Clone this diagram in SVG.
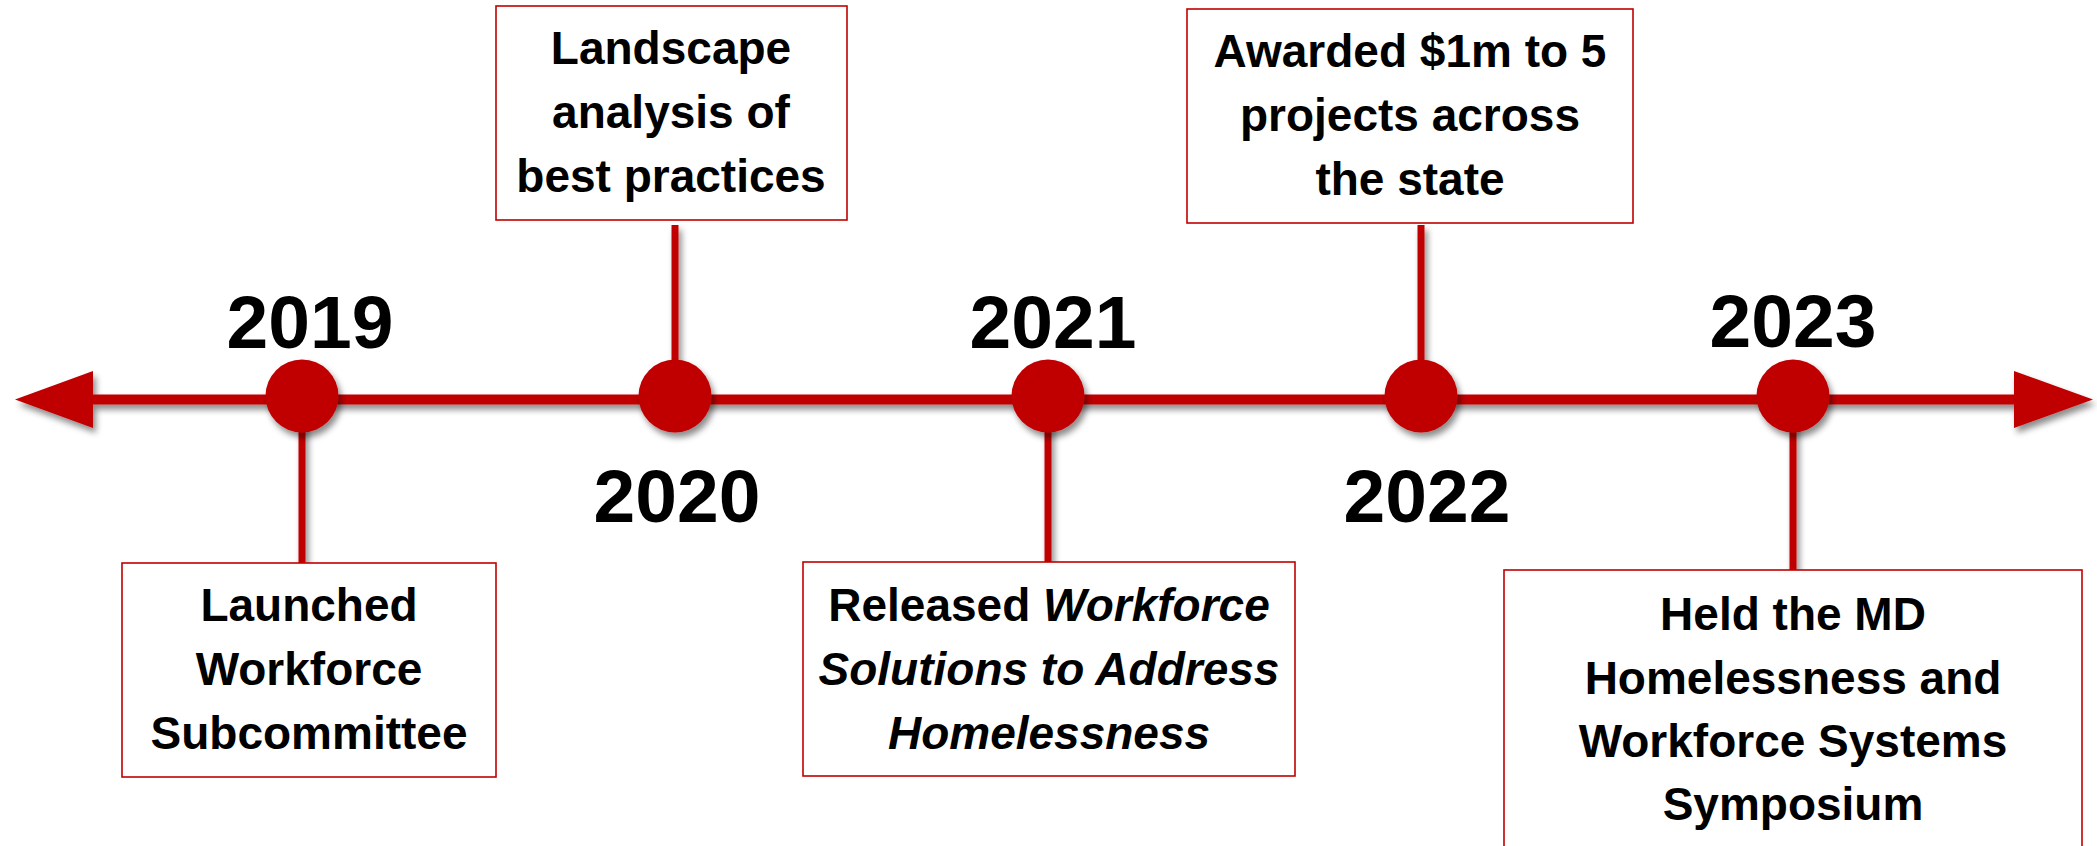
<svg xmlns="http://www.w3.org/2000/svg" width="2097" height="846" viewBox="0 0 2097 846">
  <defs>
    <filter id="shadow" x="-20%" y="-20%" width="140%" height="160%">
      <feDropShadow dx="3" dy="5" stdDeviation="3" flood-color="#000" flood-opacity="0.45"/>
    </filter>
  </defs>
  <style>
    .axis { stroke: #C00000; stroke-width: 10; fill: none; }
    .stem { stroke: #C00000; stroke-width: 7; fill: none; }
    .head { fill: #C00000; }
    .dot { fill: #C00000; }
    .box { fill: #FFFFFF; stroke: #C00000; stroke-width: 1.6; }
    .year { font-family: "Liberation Sans", Arial, sans-serif; font-weight: bold; font-size: 75px; fill: #000; text-anchor: middle; }
    .label { font-family: "Liberation Sans", Arial, sans-serif; font-weight: bold; font-size: 46px; fill: #000; text-anchor: middle; }
    .it { font-style: italic; }
  </style>
  <rect width="2097" height="846" fill="#FFFFFF"/>

  <g id="connectors" filter="url(#shadow)">
    <line class="axis" x1="90" y1="399.5" x2="2017" y2="399.5"/>
    <polygon class="head" points="15,399.5 93,371 93,428"/>
    <polygon class="head" points="2093,399.5 2014,371 2014,428"/>
    <line class="stem" x1="302" y1="420" x2="302" y2="564"/>
    <line class="stem" x1="675" y1="225" x2="675" y2="380"/>
    <line class="stem" x1="1048" y1="420" x2="1048" y2="563"/>
    <line class="stem" x1="1421" y1="225" x2="1421" y2="380"/>
    <line class="stem" x1="1793" y1="420" x2="1793" y2="571"/>
  </g>

  <g id="node-2019">
    <circle class="dot" cx="302" cy="396" r="36.5" filter="url(#shadow)"/>
    <text class="year" x="310" y="348">2019</text>
    <rect class="box" x="122" y="563" width="374" height="214"/>
    <text class="label" x="309" y="621">Launched</text>
    <text class="label" x="309" y="685">Workforce</text>
    <text class="label" x="309" y="749">Subcommittee</text>
  </g>

  <g id="node-2020">
    <circle class="dot" cx="675" cy="396" r="36.5" filter="url(#shadow)"/>
    <text class="year" x="677" y="522">2020</text>
    <rect class="box" x="496" y="6" width="351" height="214"/>
    <text class="label" x="671" y="64">Landscape</text>
    <text class="label" x="671" y="128">analysis of</text>
    <text class="label" x="671" y="192">best practices</text>
  </g>

  <g id="node-2021">
    <circle class="dot" cx="1048" cy="396" r="36.5" filter="url(#shadow)"/>
    <text class="year" x="1053" y="348">2021</text>
    <rect class="box" x="803" y="562" width="492" height="214"/>
    <text class="label" x="1049" y="621">Released <tspan class="it">Workforce</tspan></text>
    <text class="label it" x="1049" y="685">Solutions to Address</text>
    <text class="label it" x="1049" y="749">Homelessness</text>
  </g>

  <g id="node-2022">
    <circle class="dot" cx="1421" cy="396" r="36.5" filter="url(#shadow)"/>
    <text class="year" x="1427" y="522">2022</text>
    <rect class="box" x="1187" y="9" width="446" height="214"/>
    <text class="label" x="1410" y="67">Awarded $1m to 5</text>
    <text class="label" x="1410" y="131">projects across</text>
    <text class="label" x="1410" y="195">the state</text>
  </g>

  <g id="node-2023">
    <circle class="dot" cx="1793" cy="396" r="36.5" filter="url(#shadow)"/>
    <text class="year" x="1793" y="347">2023</text>
    <rect class="box" x="1504" y="570" width="578" height="300"/>
    <text class="label" x="1793" y="630">Held the MD</text>
    <text class="label" x="1793" y="694">Homelessness and</text>
    <text class="label" x="1793" y="757">Workforce Systems</text>
    <text class="label" x="1793" y="820">Symposium</text>
  </g>
</svg>
